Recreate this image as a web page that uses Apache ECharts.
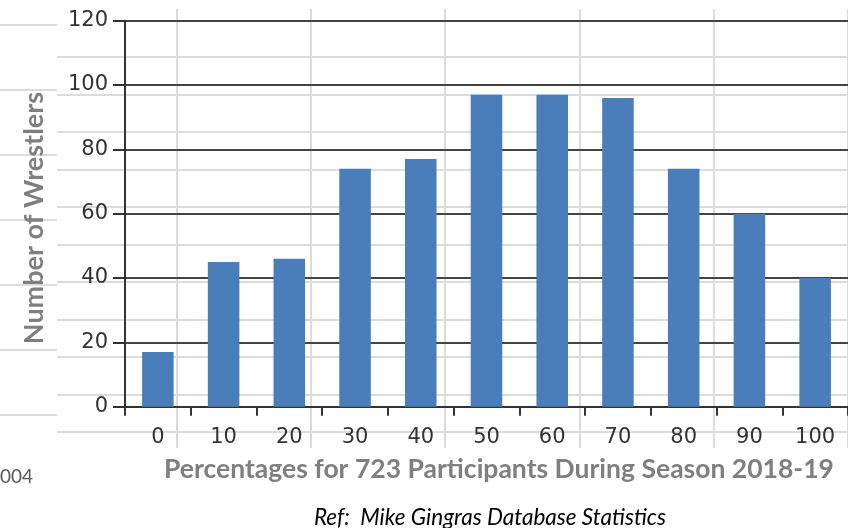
<!DOCTYPE html>
<html>
<head>
<meta charset="utf-8">
<script src="https://cdn.jsdelivr.net/npm/echarts@6/dist/echarts.min.js"></script>
<style>
html,body{margin:0;padding:0;background:#fff;}
#chart{width:848px;height:528px;}
</style>
</head>
<body>
<div id="chart"></div>
<script>
// ---- data ----
const categories = ['0', '10', '20', '30', '40', '50', '60', '70', '80', '90', '100'];
const wrestlers = [17, 45, 46, 74, 77, 97, 97, 96, 74, 60, 40];
const yMin = 0, yMax = 120, yInterval = 20;
const xTitle = 'Percentages for 723 Participants During Season 2018-19';
const yTitle = 'Number of Wrestlers';
const refText = 'Ref:  Mike Gingras Database Statistics';
const sideText = '004';

const chart = echarts.init(document.getElementById('chart'), null, {renderer: 'canvas'});
const sheetLine = {show: true, lineStyle: {color: '#dcdcdc', width: 2}};
const hidden = {axisLine: {show: false}, axisTick: {show: false}, axisLabel: {show: false}};
const tickFont = {fontFamily: 'DejaVu Sans', fontSize: 21, color: '#333'};

const option = {
  animation: false,
  backgroundColor: '#fff',
  grid: [
    {left: 125, top: 20.7, width: 727, height: 386},
    {left: 176.7, top: 9, width: 766.7, height: 439},
    {left: 57, top: 57, width: 791, height: 375},
    {left: 0, top: 25, width: 57, height: 390}
  ],
  xAxis: [
    {
      gridIndex: 0, type: 'category', data: categories, z: 3,
      axisLine: {show: true, lineStyle: {color: '#333', width: 2}},
      axisTick: {show: true, length: 9, lineStyle: {color: '#333', width: 2}},
      axisLabel: Object.assign({margin: 20}, tickFont),
      splitLine: {show: false}
    },
    Object.assign({gridIndex: 1, type: 'value', min: 0, max: 5, interval: 1, splitLine: sheetLine, z: 0}, hidden),
    Object.assign({gridIndex: 2, type: 'value', min: 0, max: 1, splitLine: {show: false}}, hidden),
    Object.assign({gridIndex: 3, type: 'value', min: 0, max: 1, splitLine: {show: false}}, hidden)
  ],
  yAxis: [
    {
      gridIndex: 0, type: 'value', min: yMin, max: yMax, interval: yInterval, z: 3,
      axisLine: {show: true, lineStyle: {color: '#333', width: 2}},
      axisTick: {show: true, length: 12, lineStyle: {color: '#333', width: 2}},
      axisLabel: Object.assign({margin: 17}, tickFont),
      splitLine: {show: true, lineStyle: {color: '#444', width: 2.2}}
    },
    Object.assign({gridIndex: 1, type: 'value', min: 0, max: 1, splitLine: {show: false}}, hidden),
    Object.assign({gridIndex: 2, type: 'value', min: 0, max: 10, interval: 1, splitLine: sheetLine, z: 0}, hidden),
    Object.assign({gridIndex: 3, type: 'value', min: 0, max: 6, interval: 1, splitLine: sheetLine, z: 0}, hidden)
  ],
  series: [{
    type: 'bar',
    xAxisIndex: 0, yAxisIndex: 0,
    data: wrestlers,
    barWidth: '48%',
    z: 5,
    itemStyle: {color: '#4a7ebb'}
  }],
  graphic: [
    {type: 'text', z: 10, x: 499, y: 469,
     style: {text: xTitle, font: 'bold 26.5px Lato', fill: '#7f7f7f', align: 'center', verticalAlign: 'middle'}},
    {type: 'text', z: 10, x: 34, y: 218, rotation: Math.PI / 2,
     style: {text: yTitle, font: 'bold 27px Lato', fill: '#7f7f7f', align: 'center', verticalAlign: 'middle'}},
    {type: 'text', z: 10, x: 490, y: 518,
     style: {text: refText, font: 'italic 22.5px Lato', fill: '#000', align: 'center', verticalAlign: 'middle'}},
    {type: 'text', z: 10, x: 0, y: 477,
     style: {text: sideText, font: '19px Lato', fill: '#595959', align: 'left', verticalAlign: 'middle'}}
  ]
};
chart.setOption(option);
</script>
</body>
</html>
